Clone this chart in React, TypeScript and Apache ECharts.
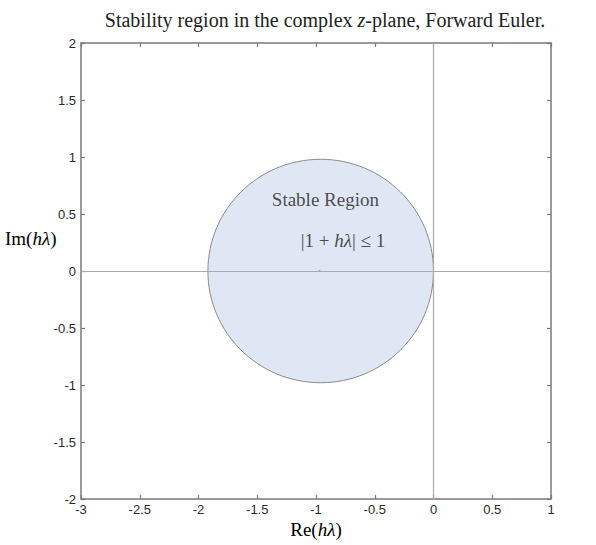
import React, { useEffect, useRef } from "react";
import * as echarts from "echarts";

const xTicks = [-3, -2.5, -2, -1.5, -1, -0.5, 0, 0.5, 1];
const yTicks = [-2, -1.5, -1, -0.5, 0, 0.5, 1, 1.5, 2];
// stability disc: center (re, im) and radii (re, im)
const discCenter = [-0.96, 0];
const discRadius = [0.96, 0.98];
const titleText = "Stability region in the complex ";
const annotations = [
  { name: "region", value: [-0.92, 0.63] },
  { name: "cond", value: [-0.77, 0.27] },
];

const serif = "'Liberation Serif', 'DejaVu Serif', serif";
const sans = "'Liberation Sans', Arial, sans-serif";

export default function App() {
  const ref = useRef<HTMLDivElement>(null);
  useEffect(() => {
    document.body.style.margin = "0";
    const chart = echarts.init(ref.current!, null, { renderer: "svg" });
    const axisCommon = {
      type: "value" as const,
      interval: 0.5,
      splitLine: { show: false },
      axisLine: { show: true, onZero: false, lineStyle: { color: "#7a7a7a", width: 1.5 } },
      axisTick: { show: true, inside: true, length: 4, lineStyle: { color: "#7a7a7a", width: 1.2 } },
    };
    const mkRich = (size: number) => ({
      n: { fontFamily: serif, fontSize: size, color: "#222", fontWeight: "normal" },
      i: { fontFamily: serif, fontSize: size, fontStyle: "italic", color: "#222", fontWeight: "normal" },
    });
    const richText = mkRich(19);
    chart.setOption({
      animation: false,
      backgroundColor: "#fff",
      title: {
        text: "{n|" + titleText + "}{i|z}{n|-plane, Forward Euler.}",
        left: 320,
        textAlign: "center",
        top: 5,
        textStyle: { fontWeight: "normal", rich: mkRich(20) },
      },
      grid: { left: 81, top: 43, width: 470, height: 456 },
      xAxis: [
        {
          ...axisCommon,
          min: -3,
          max: 1,
          position: "bottom",
          axisLabel: {
            fontFamily: sans,
            fontSize: 13,
            color: "#2a2a2a",
            margin: 4,
            formatter: (v: number) => (xTicks.includes(v) ? String(v) : ""),
          },
        },
        {
          ...axisCommon,
          min: -3,
          max: 1,
          position: "top",
          axisLabel: { show: false },
        },
      ],
      yAxis: [
        {
          ...axisCommon,
          min: -2,
          max: 2,
          position: "left",
          axisLabel: {
            fontFamily: sans,
            fontSize: 13,
            color: "#2a2a2a",
            margin: 5,
            formatter: (v: number) => (yTicks.includes(v) ? String(v) : ""),
          },
        },
        {
          ...axisCommon,
          min: -2,
          max: 2,
          position: "right",
          axisLabel: { show: false },
        },
      ],
      graphic: [
        {
          type: "text",
          left: 5,
          top: 229,
          style: {
            text: "{n|Im(}{i|hλ}{n|)}",
            rich: richText,
          },
        },
        {
          type: "text",
          x: 316,
          y: 520,
          style: {
            text: "{n|Re(}{i|hλ}{n|)}",
            align: "center",
            rich: richText,
          },
        },
      ],
      series: [
        {
          type: "custom",
          renderItem: (params: any, api: any) => {
            const c = api.coord([api.value(0), api.value(1)]);
            const s = api.size([api.value(2), api.value(3)]);
            return {
              type: "ellipse",
              shape: { cx: c[0], cy: c[1], rx: s[0], ry: s[1] },
              style: { fill: "#e0e7f4", stroke: "#8a8a8a", lineWidth: 1 },
            };
          },
          data: [[discCenter[0], discCenter[1], discRadius[0], discRadius[1]]],
          z: 1,
          silent: true,
        },
        {
          type: "line",
          data: [],
          markLine: {
            silent: true,
            symbol: "none",
            label: { show: false },
            lineStyle: { color: "#aaaaaa", width: 1.2, type: "solid" },
            data: [{ xAxis: 0 }, { yAxis: 0 }],
          },
          z: 2,
        },
        {
          type: "scatter",
          data: [[discCenter[0] - 0.01, discCenter[1]]],
          symbol: "circle",
          symbolSize: 2,
          itemStyle: { color: "#999" },
          z: 3,
          silent: true,
        },
        {
          type: "scatter",
          symbolSize: 0,
          silent: true,
          z: 4,
          data: annotations,
          label: {
            show: true,
            position: "inside",
            formatter: (p: any) =>
              p.name === "region"
                ? "{n|Stable Region}"
                : "{n||1 + }{i|hλ}{n|| ≤ 1}",
            rich: richText,
          },
        },
      ],
    });
    return () => chart.dispose();
  }, []);
  return <div ref={ref} style={{ width: 596, height: 545 }} />;
}
